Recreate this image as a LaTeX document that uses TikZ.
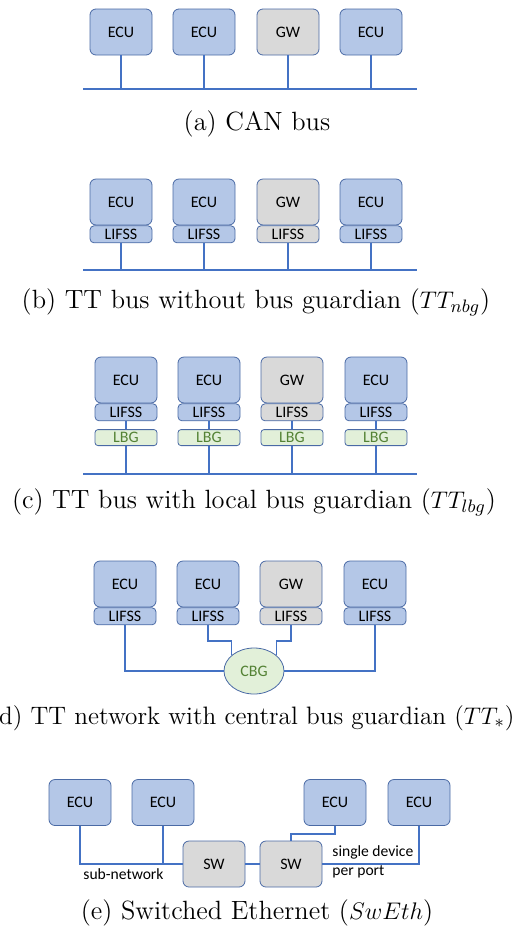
\documentclass[tikz,border=0pt]{standalone}
\usepackage{fontspec}
\newfontfamily\boxfont{Carlito}
\usetikzlibrary{positioning, shapes.geometric}
\definecolor{unitfill}{HTML}{B4C7E7}
\definecolor{unitedge}{HTML}{4A6AA5}
\definecolor{gwfill}{HTML}{D9D9D9}
\definecolor{wire}{HTML}{4472C4}
\definecolor{guardfill}{HTML}{E2F0D9}
\definecolor{guardtext}{HTML}{548235}

\begin{document}
\begin{tikzpicture}[x=0.5pt, y=-0.5pt,
    unit/.style={draw=unitedge, line width=0.4pt, fill=unitfill, rounded corners=3pt,
      minimum width=31pt, minimum height=23pt, inner sep=0pt,
      font=\boxfont\fontsize{8}{9}\selectfont},
    gw/.style={unit, fill=gwfill},
    iface/.style={rounded corners=2pt, minimum height=8.5pt},
    guard/.style={unit, rounded corners=1.5pt, minimum height=8pt,
      fill=guardfill, text=guardtext},
    bus/.style={wire, line width=0.8pt},
    caption/.style={font=\fontsize{13.2}{16}\selectfont, inner sep=0pt},
    note/.style={inner sep=0pt, align=left, font=\boxfont\fontsize{7.8}{9.5}\selectfont}]
    \useasboundingbox (0,0) rectangle (523,933);

    % (a) plain CAN bus
    \coordinate (busa-l) at (83,89);
    \coordinate (busa-r) at (417,89);
    \draw[bus] (busa-l) -- (busa-r);
    \foreach \x/\t/\s [count=\i] in {121/ECU/unit, 204/ECU/unit, 288/GW/gw, 371/ECU/unit}{%
      \node[\s] (a\i) at (\x,32) {\t};
      \draw[bus] (a\i.south) -- (a\i.south |- busa-l);}
    \node[caption] (capa) at (257,124) {(a) CAN bus};

    % (b) TT bus, no guardian
    \coordinate (busb-l) at (83,270);
    \coordinate (busb-r) at (417,270);
    \draw[bus] (busb-l) -- (busb-r);
    \foreach \x/\t/\s [count=\i] in {121/ECU/unit, 204/ECU/unit, 288/GW/gw, 371/ECU/unit}{%
      \node[\s] (b\i) at (\x,202) {\t};
      \node[\s, iface, below=0pt of b\i] (bl\i) {LIFSS};
      \draw[bus] (bl\i.south) -- (bl\i.south |- busb-l);}
    \node[caption] (capb) at (256,302) {(b) TT bus without bus guardian ($TT_{nbg}$)};

    % (c) TT bus, local guardians
    \coordinate (busc-l) at (83,474);
    \coordinate (busc-r) at (417,474);
    \draw[bus] (busc-l) -- (busc-r);
    \foreach \x/\t/\s [count=\i] in {126/ECU/unit, 209/ECU/unit, 292/GW/gw, 376/ECU/unit}{%
      \node[\s] (c\i) at (\x,380) {\t};
      \node[\s, iface, below=0pt of c\i] (cl\i) {LIFSS};
      \node[guard, below=4pt of cl\i] (cg\i) {LBG};
      \draw[bus] (cl\i) -- (cg\i);
      \draw[bus] (cg\i.south) -- (cg\i.south |- busc-l);}
    \node[caption] (capc) at (254,502) {(c) TT bus with local bus guardian ($TT_{lbg}$)};

    % (d) star with central guardian
    \node[draw=unitedge, line width=0.4pt, fill=guardfill, text=guardtext, ellipse,
      minimum width=30pt, minimum height=23pt, inner sep=0pt,
      font=\boxfont\fontsize{8}{9}\selectfont] (cbg) at (254,671) {CBG};
    \foreach \x/\t/\s [count=\i] in {125/ECU/unit, 208/ECU/unit, 291/GW/gw, 375/ECU/unit}{%
      \node[\s] (d\i) at (\x,584) {\t};
      \node[\s, iface, below=0pt of d\i] (dl\i) {LIFSS};}
    \draw[bus] (dl1.south) |- (cbg.west);
    \draw[bus] (dl4.south) |- (cbg.east);
    \draw[bus] (dl2.south) -- ++(0,16) -| (cbg.145);
    \draw[bus] (dl3.south) -- ++(0,16) -| (cbg.35);
    \node[caption, font=\fontsize{12.6}{16}\selectfont, anchor=east] (capd) at (515,718)
      {(d) TT network with central bus guardian ($TT_{*}$)};

    % (e) switched Ethernet
    \node[unit] (e1) at (80,802.5) {ECU};
    \node[unit] (e2) at (163,802.5) {ECU};
    \node[unit] (e3) at (335,802.5) {ECU};
    \node[unit] (e4) at (419,802.5) {ECU};
    \node[gw] (sw1) at (214,864) {SW};
    \node[gw] (sw2) at (291,864) {SW};
    \draw[bus] (e1.south) |- (sw1.west);
    \draw[bus] (e2.south) -- (e2.south |- sw1.west);
    \draw[bus] (sw1) -- (sw2);
    \draw[bus] (e3.south) -- ++(0,8) -| (sw2.north);
    \draw[bus] (e4.south) |- (sw2.east);
    \node[note, anchor=west] (lsub) at (83,874) {sub-network};
    \node[note, anchor=north west] (lport) at (332,845) {single device\\per port};
    \node[caption] (cape) at (257,913) {(e) Switched Ethernet ($SwEth$)};
\end{tikzpicture}
\end{document}
